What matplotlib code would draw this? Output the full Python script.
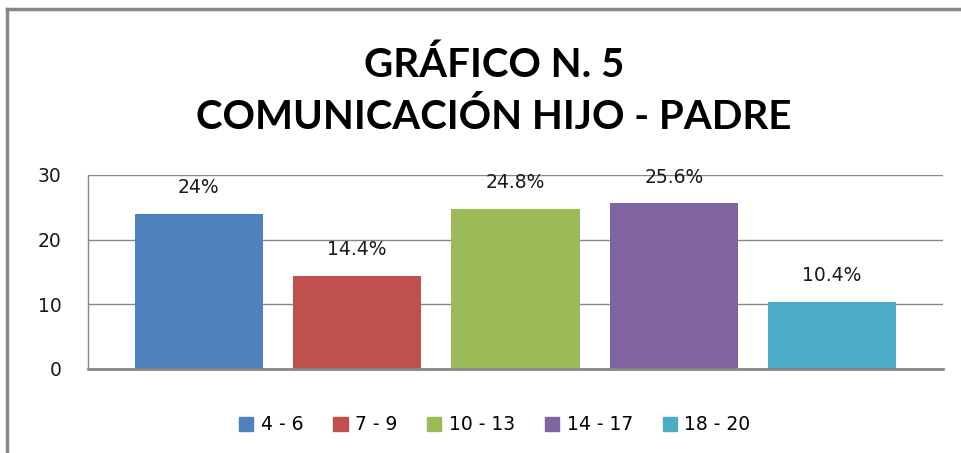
import matplotlib.pyplot as plt
import matplotlib.patches as mpatches
from matplotlib.lines import Line2D

groups = ['4 - 6', '7 - 9', '10 - 13', '14 - 17', '18 - 20']
values = [24, 14.4, 24.8, 25.6, 10.4]
labels = ['24%', '14.4%', '24.8%', '25.6%', '10.4%']
yticks = [0, 10, 20, 30]
colors = ['#4F81BD', '#C0504D', '#9BBB59', '#8064A2', '#4BACC6']

W, H = 961, 453
fig = plt.figure(figsize=(W / 100, H / 100), dpi=100)
ax = fig.add_axes([88 / W, 1 - 369 / H, (943 - 88) / W, (369 - 175) / H])

x = list(range(len(groups)))
ax.bar(x, values, width=0.81, color=colors, zorder=2)
for xi, v, lab in zip(x, values, labels):
    ax.annotate(lab, (xi, v), xytext=(0, 12), textcoords='offset points',
                ha='center', va='bottom', fontsize=13.5, color='#1a1a1a',
                family='DejaVu Sans')

ax.set_xlim(-0.70, 4.70)
ax.set_ylim(0, 30)
ax.set_yticks(yticks)
ax.set_xticks([])
ax.tick_params(axis='y', length=0, pad=19, labelsize=13.5, labelcolor='#1a1a1a')
ax.yaxis.grid(True, color='#888888', linewidth=1, zorder=0)
for s in ['top', 'right']:
    ax.spines[s].set_visible(False)
ax.spines['left'].set_color('#888888')
ax.spines['left'].set_linewidth(1)
ax.spines['bottom'].set_color('#888888')
ax.spines['bottom'].set_linewidth(2)
ax.set_axisbelow(True)

fig.text(494 / W, 1 - 91 / H, 'GRÁFICO N. 5\nCOMUNICACIÓN HIJO - PADRE',
         ha='center', va='center', fontsize=29, fontweight='bold',
         family='Lato', linespacing=1.45)

handles = [mpatches.Patch(color=c, label=g) for c, g in zip(colors, groups)]
fig.legend(handles=handles, loc='center', bbox_to_anchor=(495 / W, 1 - 425 / H),
           ncol=5, frameon=False, fontsize=13.5, handlelength=0.75, handleheight=0.75,
           handletextpad=0.4, columnspacing=1.6)

# chart border (top and left edges visible)
fig.add_artist(Line2D([7 / W, 1], [1 - 9 / H, 1 - 9 / H], color='#878787', linewidth=2.5,
                      transform=fig.transFigure))
fig.add_artist(Line2D([7 / W, 7 / W], [1 - 9 / H, 0], color='#878787', linewidth=2.5,
                      transform=fig.transFigure))

fig.savefig('out.png', dpi=100)
